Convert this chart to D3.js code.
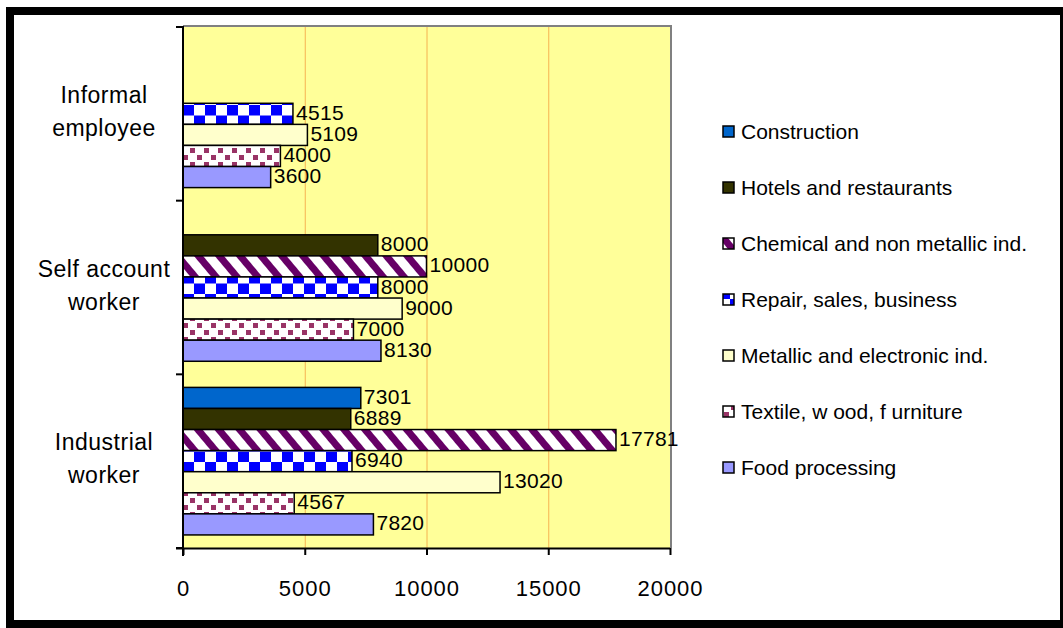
<!DOCTYPE html>
<html><head><meta charset="utf-8">
<script src="https://cdn.jsdelivr.net/npm/d3@7"></script>
<style>body{margin:0;background:#fff}svg{display:block;font-family:"Liberation Sans",Arial,sans-serif}</style>
</head><body>
<svg id="c" width="1063" height="628"></svg>
<script>
const categories = ["Informal employee", "Self account worker", "Industrial worker"];
const categoryLines = [["Informal","employee"],["Self account","worker"],["Industrial","worker"]];
// series, listed top slot first
const seriesNames = ["Construction","Hotels and restaurants","Chemical and non metallic ind.","Repair, sales, business","Metallic and electronic ind.","Textile, w ood, f urniture","Food processing"];
const construction = [null, null, 7301];
const hotels = [null, 8000, 6889];
const chemical = [null, 10000, 17781];
const repair = [4515, 8000, 6940];
const metallic = [5109, 9000, 13020];
const textile = [4000, 7000, 4567];
const food = [3600, 8130, 7820];
const xTicks = [0, 5000, 10000, 15000, 20000];

const seriesValues = [construction, hotels, chemical, repair, metallic, textile, food];
const fills = ["#0066CC","#333300","url(#pChem)","url(#pRepair)","#FFFFCC","url(#pTex)","#9999FF"];

const svg = d3.select("#c");
const defs = svg.append("defs");
// diagonal stripes
const pc = defs.append("pattern").attr("id","pChem").attr("patternUnits","userSpaceOnUse").attr("width",16).attr("height",16).attr("patternTransform","rotate(-40)");
pc.append("rect").attr("width",16).attr("height",16).attr("fill","#fff");
pc.append("rect").attr("width",7).attr("height",16).attr("fill","#660066");
// checkerboard
const pr = defs.append("pattern").attr("id","pRepair").attr("patternUnits","userSpaceOnUse").attr("width",22).attr("height",21).attr("x",183).attr("y",0);
pr.append("rect").attr("width",22).attr("height",21).attr("fill","#fff");
pr.append("rect").attr("width",11).attr("height",10.5).attr("fill","#0000FF");
pr.append("rect").attr("x",11).attr("y",10.5).attr("width",11).attr("height",10.5).attr("fill","#0000FF");
// dotted
const pt = defs.append("pattern").attr("id","pTex").attr("patternUnits","userSpaceOnUse").attr("width",14).attr("height",14);
pt.append("rect").attr("width",14).attr("height",14).attr("fill","#fff");
pt.append("rect").attr("x",1).attr("y",1).attr("width",5).attr("height",5).attr("fill","#993366");
pt.append("rect").attr("x",8).attr("y",8).attr("width",5).attr("height",5).attr("fill","#993366");

// outer frame
svg.append("rect").attr("x",10).attr("y",11).attr("width",1050.5).attr("height",613).attr("fill","none").attr("stroke","#000").attr("stroke-width",8);
svg.append("rect").attr("x",1060).attr("y",11).attr("width",2).attr("height",613).attr("fill","#000");
svg.append("rect").attr("x",14).attr("y",15).attr("width",1046).attr("height",605).attr("fill","#fff");

const L = 183, R = 670, T = 27, B = 548;
const x = d3.scaleLinear().domain([0,20000]).range([L,R]);
const y = d3.scaleBand().domain(categories).range([T,B]);
const inner = d3.scaleBand().domain(d3.range(7)).range([0, y.bandwidth()]).paddingOuter(0.62);

svg.append("rect").attr("x",L).attr("y",T).attr("width",R-L).attr("height",B-T).attr("fill","#FFFF99");
svg.append("path").attr("d",`M${L},${T-1}H${R+1}V${B}`).attr("fill","none").attr("stroke","#808080").attr("stroke-width",2);

svg.append("g").selectAll("line").data(xTicks.slice(1,-1)).join("line")
  .attr("x1",d=>x(d)+0.5).attr("x2",d=>x(d)+0.5).attr("y1",T).attr("y2",B)
  .attr("stroke","#F5A040").attr("stroke-width",1).attr("opacity",0.8);

const bars = [];
seriesValues.forEach((vals,si)=>vals.forEach((v,ci)=>{ if(v!=null) bars.push({si,ci,v}); }));
const bh = inner.bandwidth();
svg.append("g").selectAll("rect").data(bars).join("rect")
  .attr("x",L).attr("y",d=>y(categories[d.ci])+inner(d.si))
  .attr("width",d=>x(d.v)-L).attr("height",bh)
  .attr("fill",d=>fills[d.si]).attr("stroke","#000").attr("stroke-width",1.5);
svg.append("g").selectAll("text").data(bars).join("text")
  .attr("x",d=>x(d.v)+3).attr("y",d=>y(categories[d.ci])+inner(d.si)+bh/2-1.5)
  .attr("dy","0.36em").attr("font-size",21).attr("letter-spacing",0.3).attr("fill","#000").text(d=>d.v);

// axes
const xa = svg.append("g").attr("transform",`translate(0,${B})`)
  .call(d3.axisBottom(x).tickValues(xTicks).tickSize(7).tickSizeOuter(0).tickPadding(25).tickFormat(d3.format("d")));
xa.select(".domain").attr("d",`M${L-7},0.5H${R}`).attr("stroke","#000").attr("stroke-width",2);
xa.selectAll(".tick line").attr("stroke","#000").attr("stroke-width",2);
xa.selectAll(".tick text").attr("font-size",22).attr("letter-spacing",1).attr("font-family","Liberation Sans, Arial, sans-serif").attr("fill","#000");

const ya = svg.append("g");
ya.append("line").attr("x1",L).attr("x2",L).attr("y1",T-1).attr("y2",B+8).attr("stroke","#000").attr("stroke-width",2);
ya.selectAll(".tk").data([T, ...categories.map(c=>y(c)+y.bandwidth())]).join("line")
  .attr("x1",L-7).attr("x2",L).attr("y1",d=>d).attr("y2",d=>d).attr("stroke","#000").attr("stroke-width",2);
const cl = svg.append("g").selectAll("text").data(categories).join("text")
  .attr("x",104).attr("y",d=>y(d)+y.bandwidth()/2-11).attr("text-anchor","middle").attr("font-size",23).attr("letter-spacing",0.5).attr("fill","#000");
cl.selectAll("tspan").data((d,i)=>categoryLines[i]).join("tspan")
  .attr("x",104).attr("dy",(d,i)=>i===0?"0":"33px").text(d=>d);

// legend
const lg = svg.append("g").selectAll("g").data(seriesNames).join("g")
  .attr("transform",(d,i)=>`translate(723,${131+i*56})`);
lg.append("rect").attr("x",0).attr("y",-5).attr("width",11).attr("height",11)
  .attr("fill",(d,i)=>fills[i]).attr("stroke","#000").attr("stroke-width",1.5);
lg.append("text").attr("x",18).attr("y",0).attr("dy","0.36em").attr("font-size",21).attr("fill","#000").text(d=>d);
</script>
</body></html>
